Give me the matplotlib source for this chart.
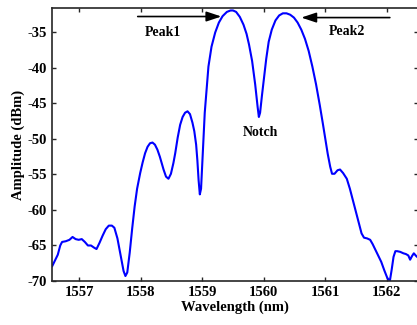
import matplotlib
matplotlib.use("Agg")
import matplotlib.pyplot as plt

plt.rcParams['font.family'] = ['Liberation Serif', 'DejaVu Serif']
plt.rcParams['font.weight'] = 'bold'
plt.rcParams['axes.unicode_minus'] = False

wavelength = [1556.56, 1556.60, 1556.65, 1556.69, 1556.72, 1556.78, 1556.84, 1556.89,
              1556.94, 1556.99, 1557.04, 1557.09, 1557.14, 1557.19, 1557.24, 1557.28,
              1557.33, 1557.38, 1557.43, 1557.48, 1557.53, 1557.57, 1557.62, 1557.67,
              1557.72, 1557.75, 1557.78, 1557.82, 1557.86, 1557.90, 1557.94, 1557.99,
              1558.03, 1558.07, 1558.11, 1558.15, 1558.19, 1558.23, 1558.27, 1558.31,
              1558.37, 1558.41, 1558.45, 1558.49, 1558.53, 1558.56, 1558.60, 1558.64,
              1558.68, 1558.72, 1558.76, 1558.80, 1558.84, 1558.87, 1558.90, 1558.92,
              1558.94, 1558.96, 1558.98, 1559.00, 1559.02, 1559.04, 1559.08, 1559.10,
              1559.15, 1559.21, 1559.27, 1559.33, 1559.40, 1559.46, 1559.50, 1559.55,
              1559.61, 1559.67, 1559.72, 1559.76, 1559.81, 1559.86, 1559.90, 1559.92,
              1559.94, 1559.97, 1560.00, 1560.04, 1560.08, 1560.13, 1560.19, 1560.25,
              1560.31, 1560.37, 1560.43, 1560.49, 1560.55, 1560.61, 1560.67, 1560.73,
              1560.79, 1560.85, 1560.91, 1560.96, 1561.00, 1561.04, 1561.08, 1561.11,
              1561.15, 1561.20, 1561.24, 1561.29, 1561.35, 1561.40, 1561.46, 1561.52,
              1561.59, 1561.63, 1561.68, 1561.73, 1561.77, 1561.82, 1561.86, 1561.91,
              1561.96, 1562.01, 1562.05, 1562.08, 1562.11, 1562.14, 1562.17, 1562.22,
              1562.27, 1562.31, 1562.35, 1562.38, 1562.41, 1562.44, 1562.48, 1562.52]
amplitude = [-67.9, -67.2, -66.3, -65.0, -64.5, -64.4, -64.2, -63.8,
             -64.1, -64.2, -64.1, -64.5, -65.0, -65.0, -65.3, -65.5,
             -64.6, -63.6, -62.7, -62.2, -62.2, -62.5, -64.0, -66.3,
             -68.6, -69.3, -68.8, -66.0, -62.6, -59.5, -57.0, -54.8,
             -53.3, -52.0, -51.1, -50.6, -50.5, -50.8, -51.5, -52.5,
             -54.3, -55.3, -55.6, -54.9, -53.4, -52.0, -49.8, -48.0,
             -46.9, -46.3, -46.1, -46.5, -47.7, -48.9, -50.8, -53.0,
             -55.8, -57.8, -57.0, -53.5, -50.1, -46.3, -42.0, -39.8,
             -37.0, -35.0, -33.6, -32.7, -32.1, -31.9, -31.9, -32.1,
             -32.8, -33.9, -35.2, -36.7, -39.0, -42.3, -45.5, -46.9,
             -46.3, -43.9, -41.7, -38.7, -36.3, -34.6, -33.3, -32.6,
             -32.3, -32.3, -32.5, -32.9, -33.6, -34.6, -35.9, -37.6,
             -39.8, -42.3, -45.2, -47.8, -50.0, -52.1, -53.9, -54.9,
             -54.9, -54.4, -54.3, -54.8, -55.6, -57.0, -59.0, -61.0,
             -63.3, -63.9, -64.0, -64.2, -64.8, -65.7, -66.4, -67.3,
             -68.5, -69.6, -70.0, -68.4, -66.6, -65.8, -65.8, -65.9,
             -66.1, -66.2, -66.4, -67.0, -66.5, -66.1, -66.5, -66.8]

xticks = [1557, 1558, 1559, 1560, 1561, 1562]
yticks = [-70, -65, -60, -55, -50, -45, -40, -35]

fig = plt.figure(figsize=(4.17, 3.25), dpi=100)
ax = fig.add_axes([0.1247, 0.1354, 0.8783, 0.84])
ax.plot(wavelength, amplitude, color='#0000ff', linewidth=1.5)

ax.set_xlim(1556.556, 1562.512)
ax.set_ylim(-70, -31.55)
ax.set_xticks(xticks)
ax.set_yticks(yticks)
ax.tick_params(direction='in', top=True, right=True, length=3, width=1,
               labelsize=10.5, colors='#262626', labelcolor='black')
for lab in ax.get_xticklabels() + ax.get_yticklabels():
    lab.set_fontweight('bold')
for s in ax.spines.values():
    s.set_linewidth(1.2)
    s.set_color('#262626')

ax.set_xlabel('Wavelength (nm)', fontsize=10.5, fontweight='bold', labelpad=1)
ax.set_ylabel('Amplitude (dBm)', fontsize=10.5, fontweight='bold', labelpad=2)

arrow = dict(arrowstyle='-|>,head_length=0.9,head_width=0.3', color='black', lw=1.2,
             mutation_scale=10, shrinkA=0, shrinkB=0)
ax.annotate('', xy=(1559.31, -32.75), xytext=(1557.95, -32.75), arrowprops=arrow)
ax.annotate('', xy=(1560.61, -32.9), xytext=(1562.05, -32.9), arrowprops=arrow)
ax.text(1558.36, -35.0, 'Peak1', fontsize=10, fontweight='bold', ha='center', va='center')
ax.text(1561.35, -34.8, 'Peak2', fontsize=10, fontweight='bold', ha='center', va='center')
ax.text(1559.94, -49.1, 'Notch', fontsize=10, fontweight='bold', ha='center', va='center')

fig.savefig('out.png', dpi=100)
